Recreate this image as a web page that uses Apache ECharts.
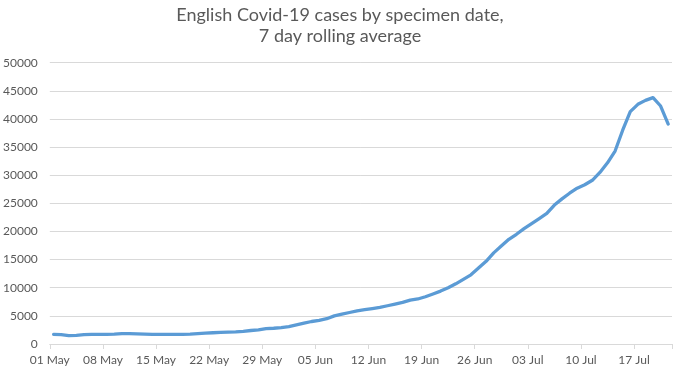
<!DOCTYPE html>
<html>
<head>
<meta charset="utf-8">
<script src="https://cdn.jsdelivr.net/npm/echarts@6/dist/echarts.min.js"></script>
<style>html,body{margin:0;padding:0;background:#fff}#c{width:680px;height:375px}</style>
</head>
<body>
<div id="c"></div>
<script>
var categories = [
'01 May','02 May','03 May','04 May','05 May','06 May','07 May','08 May','09 May','10 May',
'11 May','12 May','13 May','14 May','15 May','16 May','17 May','18 May','19 May','20 May',
'21 May','22 May','23 May','24 May','25 May','26 May','27 May','28 May','29 May','30 May',
'31 May','01 Jun','02 Jun','03 Jun','04 Jun','05 Jun','06 Jun','07 Jun','08 Jun','09 Jun',
'10 Jun','11 Jun','12 Jun','13 Jun','14 Jun','15 Jun','16 Jun','17 Jun','18 Jun','19 Jun',
'20 Jun','21 Jun','22 Jun','23 Jun','24 Jun','25 Jun','26 Jun','27 Jun','28 Jun','29 Jun',
'30 Jun','01 Jul','02 Jul','03 Jul','04 Jul','05 Jul','06 Jul','07 Jul','08 Jul','09 Jul',
'10 Jul','11 Jul','12 Jul','13 Jul','14 Jul','15 Jul','16 Jul','17 Jul','18 Jul','19 Jul',
'20 Jul','21 Jul'];
var cases = [
1700,1650,1500,1550,1650,1700,1700,1700,1750,1850,
1850,1800,1750,1700,1700,1700,1700,1700,1750,1850,
1950,2000,2050,2100,2150,2250,2400,2500,2750,2800,
2900,3100,3400,3700,4000,4200,4500,5000,5300,5600,
5900,6100,6300,6500,6800,7100,7400,7800,8000,8400,
8900,9400,10000,10700,11500,12300,13500,14700,16200,17400,
18600,19500,20500,21400,22300,23200,24700,25800,26800,27700,
28300,29100,30500,32200,34300,38000,41300,42600,43300,43800,
42300,39100];
var yTicks = {min: 0, max: 50000, interval: 5000};
var titleText = 'English Covid-19 cases by specimen date,\n7 day rolling average';

var chart = echarts.init(document.getElementById('c'), null, {renderer: 'canvas'});
var font = 'Lato, "Noto Sans", sans-serif';
chart.setOption({
  animation: false,
  backgroundColor: '#ffffff',
  title: {
    text: titleText, left: 'center', top: 0,
    textStyle: {color: '#595959', fontSize: 18, fontWeight: 'normal', fontFamily: font, lineHeight: 21}
  },
  grid: {left: 47.5, right: 8, top: 62.7, bottom: 31, containLabel: false},
  xAxis: {
    type: 'category', data: categories, boundaryGap: true,
    axisLine: {show: true, lineStyle: {color: '#d9d9d9', width: 1}},
    axisTick: {show: true, interval: 6, length: 5, lineStyle: {color: '#d9d9d9'}},
    axisLabel: {interval: 6, color: '#595959', fontSize: 12, fontFamily: font, margin: 10, padding: [0, 7.6, 0, 0]},
    splitLine: {show: false}
  },
  yAxis: {
    type: 'value', min: yTicks.min, max: yTicks.max, interval: yTicks.interval,
    axisLine: {show: false}, axisTick: {show: false},
    axisLabel: {color: '#595959', fontSize: 12, fontFamily: font, margin: 12, formatter: function (v) { return String(v); }},
    splitLine: {lineStyle: {color: '#d9d9d9', width: 1}}
  },
  series: [{
    type: 'line', data: cases, showSymbol: false, smooth: false,
    lineStyle: {color: '#5b9bd5', width: 3.3, cap: 'round', join: 'round'},
    itemStyle: {color: '#5b9bd5'}
  }]
});
</script>
</body>
</html>
